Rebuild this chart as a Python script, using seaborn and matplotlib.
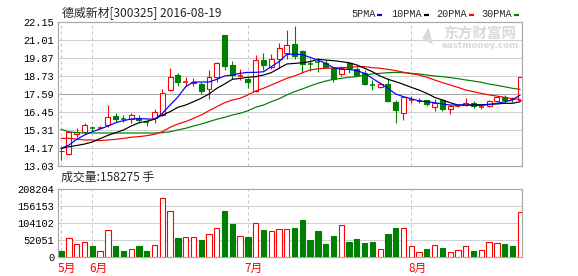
import matplotlib
matplotlib.use("Agg")
import matplotlib.pyplot as plt
from matplotlib.lines import Line2D
import seaborn as sns
import numpy as np
import pandas as pd

# ---------------- data ----------------
title = "德威新材[300325] 2016-08-19"
vol_header = "成交量:158275 手"
price_ticks = [13.03, 14.17, 15.31, 16.45, 17.59, 18.73, 19.87, 21.01, 22.15]
price_labels = ["13.03", "14.17", "15.31", "16.45", "17.59", "18.73", "19.87", "21.01", "22.15"]
vol_ticks = [0, 52051, 104102, 156153, 208204]
vol_labels = ["0", "52051", "104102", "156153", "208204"]
month_idx = [0, 4, 24, 45]
month_labels = ["5月", "6月", "7月", "8月"]
legend_labels = ["5PMA", "10PMA", "20PMA", "30PMA"]

opens = [14.00, 13.77, 15.04, 15.20, 15.43, 15.40, 15.61, 16.20, 16.03, 15.99,
         16.05, 15.82, 16.05, 16.26, 17.84, 18.79, 18.35, 18.27, 18.22, 17.88,
         18.65, 21.33, 19.43, 18.69, 18.52, 17.80, 19.74, 19.28, 19.83, 20.16,
         20.78, 20.31, 19.50, 19.66, 19.58, 19.22, 18.86, 19.58, 19.15, 18.90,
         18.18, 18.05, 18.22, 17.10, 16.41, 17.19, 17.12, 17.21, 16.79, 17.21,
         16.62, 16.81, 16.87, 17.00, 16.77, 16.83, 17.16, 17.38, 17.27, 17.21]
closes = [13.95, 15.16, 15.20, 15.61, 15.40, 15.45, 16.11, 16.01, 16.00, 16.26,
          15.97, 15.79, 16.43, 17.63, 18.65, 18.37, 18.40, 18.37, 17.80, 18.69,
          19.53, 19.39, 18.79, 18.72, 18.35, 19.74, 19.43, 19.79, 20.48, 20.69,
          20.00, 19.47, 19.47, 19.62, 19.32, 18.52, 19.22, 19.22, 18.79, 18.22,
          18.14, 18.22, 17.16, 16.57, 17.38, 17.23, 17.16, 16.96, 17.00, 16.62,
          16.83, 16.85, 17.00, 16.83, 16.81, 17.14, 17.38, 17.21, 17.23, 18.69]
highs = [14.17, 15.18, 15.41, 15.73, 15.56, 15.55, 16.89, 16.37, 16.28, 16.41,
         16.28, 15.88, 16.62, 17.88, 19.22, 18.90, 18.68, 18.58, 18.37, 19.11,
         19.64, 21.33, 19.68, 19.15, 18.69, 20.06, 20.21, 20.12, 20.80, 21.64,
         21.91, 20.37, 19.79, 19.85, 19.74, 19.32, 19.37, 19.64, 19.32, 19.11,
         18.48, 18.37, 18.58, 17.21, 17.42, 17.46, 17.31, 17.23, 17.25, 17.25,
         16.89, 16.89, 17.31, 17.12, 16.89, 17.21, 17.46, 17.52, 17.42, 18.69]
lows = [13.40, 13.75, 14.85, 15.04, 15.24, 15.35, 15.52, 15.84, 15.84, 15.78,
        15.78, 15.56, 15.73, 16.20, 17.78, 18.09, 18.09, 18.09, 17.59, 17.29,
        18.37, 19.11, 18.52, 18.48, 17.95, 17.74, 19.11, 19.15, 19.22, 19.79,
        19.79, 18.90, 19.07, 19.00, 19.22, 18.37, 18.75, 18.90, 18.73, 18.16,
        17.84, 17.95, 17.10, 15.73, 15.94, 17.00, 17.00, 16.84, 16.53, 16.53,
        16.32, 16.75, 16.83, 16.68, 16.62, 16.79, 17.10, 17.05, 17.10, 17.17]
volumes = [17500, 57700, 41200, 47400, 33000, 19600, 82500, 33000, 17500, 25800,
           33000, 17500, 38100, 180400, 140200, 57700, 59800, 59800, 51500, 69000,
           87600, 141200, 101000, 62900, 60800, 103000, 82500, 78300, 84500, 84500,
           88600, 113400, 51500, 79400, 39200, 63900, 96900, 45400, 54600, 42300,
           45400, 25800, 70100, 88600, 88600, 35000, 16500, 23700, 38100, 26800,
           16500, 22700, 35000, 17500, 22700, 47400, 44300, 39200, 33000, 137000]
ma5 = [14.15, 14.36, 14.72, 14.99, 15.20, 15.37, 15.56, 15.77, 15.90, 16.01,
       16.03, 16.01, 15.99, 16.37, 16.89, 17.40, 18.05, 18.35, 18.35, 18.35,
       18.52, 18.73, 18.79, 18.90, 18.96, 18.96, 19.00, 19.32, 19.64, 20.10,
       20.12, 20.08, 19.91, 19.74, 19.53, 19.26, 19.15, 19.15, 19.07, 18.90,
       18.58, 18.27, 17.95, 17.59, 17.42, 17.29, 17.15, 17.10, 17.04, 16.96,
       16.89, 16.89, 16.89, 16.87, 16.87, 16.92, 17.00, 17.10, 17.21, 17.53]
ma10 = [14.15, 14.25, 14.33, 14.42, 14.55, 14.76, 14.97, 15.14, 15.31, 15.56,
        15.77, 15.86, 15.99, 16.26, 16.47, 16.75, 16.89, 17.10, 17.32, 17.59,
        17.95, 18.22, 18.52, 18.58, 18.65, 18.69, 18.79, 18.94, 19.22, 19.49,
        19.53, 19.57, 19.64, 19.79, 19.74, 19.70, 19.64, 19.57, 19.43, 19.22,
        19.00, 18.73, 18.52, 18.37, 18.20, 18.01, 17.84, 17.63, 17.38, 17.21,
        17.04, 16.89, 16.89, 16.91, 16.91, 16.94, 16.96, 17.00, 17.00, 17.10]
ma20 = [14.78, 14.78, 14.74, 14.68, 14.68, 14.64, 14.68, 14.72, 14.78, 14.85,
        14.89, 14.95, 15.04, 15.20, 15.48, 15.69, 15.84, 16.05, 16.26, 16.53,
        16.79, 17.04, 17.21, 17.32, 17.53, 17.78, 17.95, 18.16, 18.37, 18.58,
        18.73, 18.94, 19.11, 19.19, 19.22, 19.24, 19.26, 19.28, 19.32, 19.32,
        19.26, 19.22, 19.15, 19.07, 18.97, 18.88, 18.79, 18.65, 18.48, 18.31,
        18.16, 18.01, 17.84, 17.74, 17.63, 17.53, 17.46, 17.38, 17.29, 17.25]
ma30 = [15.35, 15.20, 15.14, 15.12, 15.12, 15.12, 15.12, 15.12, 15.12, 15.12,
        15.12, 15.12, 15.12, 15.14, 15.20, 15.31, 15.42, 15.56, 15.69, 15.84,
        15.99, 16.11, 16.26, 16.37, 16.53, 16.75, 16.89, 17.10, 17.29, 17.53,
        17.74, 17.91, 18.10, 18.27, 18.41, 18.52, 18.58, 18.65, 18.69, 18.79,
        18.86, 18.90, 18.94, 18.96, 18.94, 18.90, 18.86, 18.79, 18.73, 18.69,
        18.63, 18.56, 18.48, 18.41, 18.33, 18.22, 18.14, 18.05, 17.95, 17.88]

# ---------------- style ----------------
sns.set_style("white")
plt.rcParams["font.family"] = ["Noto Sans CJK SC", "DejaVu Sans"]
MONO = "Liberation Mono"
RED, GREEN, BLUE, BLACK = "#ff0000", "#008000", "#0000ff", "#000000"
GRID = "#d0d0d0"
BORDER = "#a8a8a8"
PX = 0.72  # 1 px in points at 100 dpi

W, H = 578, 276
fig = plt.figure(figsize=(W / 100, H / 100), dpi=100)


def rect(l, t, r, b):
    return [l / W, 1 - b / H, (r - l) / W, (b - t) / H]


ax = fig.add_axes(rect(58.3, 22, 522.3, 166))
axv = fig.add_axes(rect(58.3, 189, 522.3, 257))

n = len(closes)
idx = np.arange(n)
xlim = (-0.37, n - 1 + 0.27)

for a in (ax, axv):
    a.set_xlim(*xlim)
    a.set_xticks([])
    for s in a.spines.values():
        s.set_color(BORDER)
        s.set_linewidth(PX * 1.2)
    a.tick_params(axis="y", length=0, pad=3, labelsize=7.4, colors="#000000")
    for m in month_idx:
        a.axvline(m, color="#c4c4c4", lw=PX, ls=(0, (3, 3)), zorder=0.5)

# price panel
ax.set_ylim(price_ticks[0], price_ticks[-1])
ax.set_yticks(price_ticks)
ax.set_yticklabels(price_labels, fontfamily=MONO)
for k, t in enumerate(price_ticks[1:-1], start=1):
    ax.axhline(t, color="#a8a8a8" if k == 4 else GRID, lw=PX, zorder=0.4)

# watermark
fig.text(480 / W, 1 - 34 / H, "东方财富网", fontsize=10.5, fontweight="bold",
         color="#dadada", ha="center", va="center", zorder=0)
fig.text(480 / W, 1 - 45.5 / H, "eastmoney.com", fontsize=6.3, fontweight="bold",
         color="#dadada", ha="center", va="center", zorder=0, family="DejaVu Sans")
fig.text(430 / W, 1 - 36 / H, "\u25e3", fontsize=12, color="#dadada",
         ha="center", va="center", zorder=0, family="DejaVu Sans", rotation=-30)

bw = 0.64
for i in idx:
    o, c, h, l = opens[i], closes[i], highs[i], lows[i]
    up = c >= o
    col = RED if up else GREEN
    top, bot = max(o, c), min(o, c)
    if up:
        ax.vlines(i, top, h, color=col, lw=PX * 1.1, zorder=2)
        ax.vlines(i, l, bot, color=col, lw=PX * 1.1, zorder=2)
    else:
        ax.vlines(i, l, h, color=col, lw=PX * 1.1, zorder=2)
    if top - bot < 0.05:
        ax.hlines((o + c) / 2, i - bw / 2, i + bw / 2, color=col, lw=PX * 1.6, zorder=3)
    else:
        ax.bar(i, top - bot, bottom=bot, width=bw,
               facecolor="white" if up else GREEN, edgecolor=col,
               linewidth=PX * 1.1, zorder=3)

ma_df = pd.DataFrame({"i": idx, "ma5": ma5, "ma10": ma10, "ma20": ma20, "ma30": ma30})
for col_name, colr in [("ma30", GREEN), ("ma20", RED), ("ma10", BLACK), ("ma5", BLUE)]:
    sns.lineplot(data=ma_df, x="i", y=col_name, color=colr, lw=PX * 1.2,
                 ax=ax, legend=False, zorder=4)
ax.set_xlabel("")
ax.set_ylabel("")
ax.set_xlim(*xlim)
ax.set_xticks([])

# volume panel
axv.set_ylim(vol_ticks[0], vol_ticks[-1])
axv.set_yticks(vol_ticks)
axv.set_yticklabels(vol_labels, fontfamily=MONO)
for t in vol_ticks[1:-1]:
    axv.axhline(t, color=GRID, lw=PX, zorder=0.4)
for i in idx:
    up = closes[i] >= opens[i]
    axv.bar(i, volumes[i], width=0.68, facecolor="white" if up else GREEN,
            edgecolor=RED if up else GREEN, linewidth=PX * 1.1, zorder=3)
axv.set_xlabel("")
axv.set_ylabel("")

for m, lab in zip(month_idx, month_labels):
    axv.text(m - 0.4, -0.165, lab, transform=axv.get_xaxis_transform(),
             color=RED, fontsize=8.5, ha="left", va="center")

# texts
fig.text(62 / W, 1 - 13.5 / H, title, fontsize=8.6, ha="left", va="center")
fig.text(61 / W, 1 - 177 / H, vol_header, fontsize=8.6, ha="left", va="center")

leg_text_x = [351.7, 391.7, 436.7, 481.7]
leg_mark_x = [377.3, 424.0, 469.3, 514.0]
for lab, tx, mx, colr in zip(legend_labels, leg_text_x, leg_mark_x, [BLUE, BLACK, RED, GREEN]):
    fig.text(tx / W, 1 - 14 / H, lab, fontsize=7.3, family=MONO, ha="left", va="center")
    fig.add_artist(Line2D([mx / W, (mx + 5) / W], [1 - 14.5 / H, 1 - 14.5 / H],
                          color=colr, lw=PX * 2.2, solid_capstyle="butt"))

fig.savefig("out.png", dpi=100)
